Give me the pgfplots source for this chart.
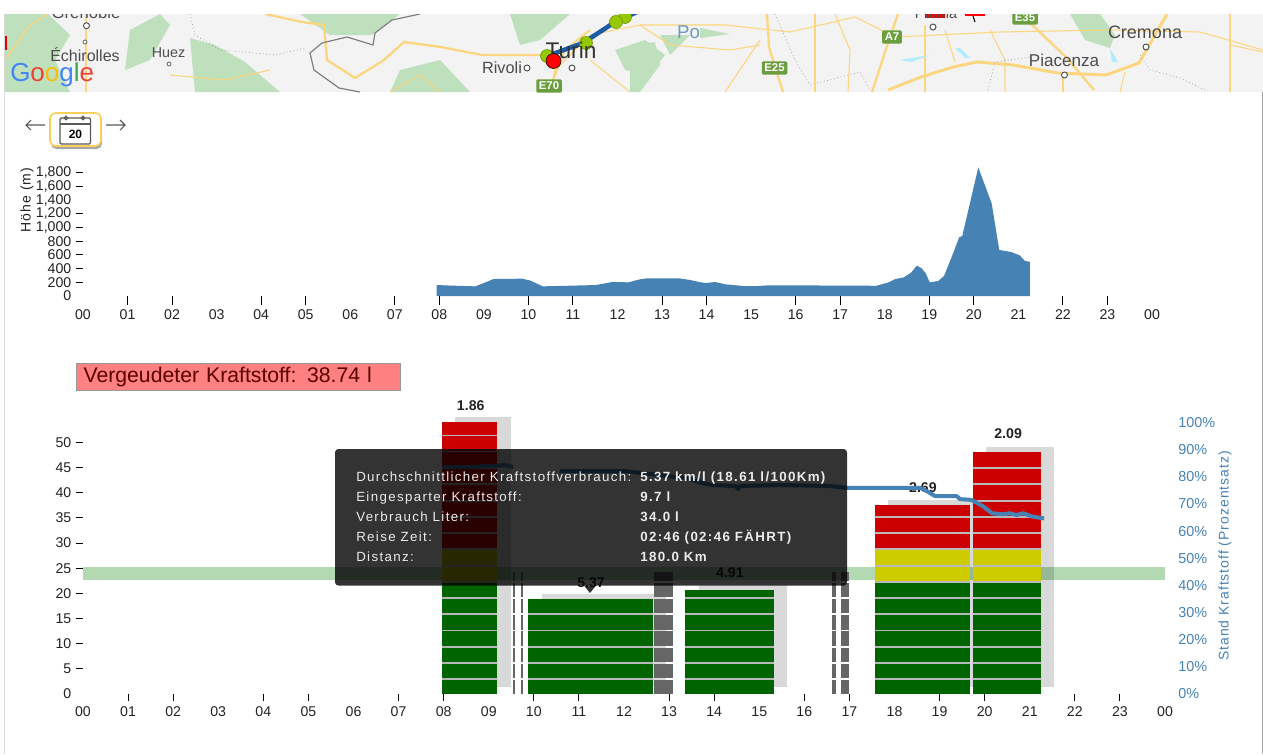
\documentclass[border=0pt]{standalone}
\usepackage{pgfplots}
\pgfplotsset{compat=1.18}
\usepackage{fontspec}
\setmainfont{Liberation Sans}
\newfontfamily\spaced[LetterSpace=7]{Liberation Sans}
\newfontfamily\tipfont[LetterSpace=10]{Liberation Sans}
\definecolor{steel}{HTML}{4682B4}
\definecolor{gbar}{HTML}{006400}
\definecolor{ybar}{HTML}{CCCC00}
\definecolor{rbar}{HTML}{CC0000}
\definecolor{dbar}{HTML}{666666}
\definecolor{sepbar}{HTML}{B8B8B8}
\definecolor{road}{HTML}{FBD67E}
\definecolor{mapgreen}{HTML}{BFE0BC}
\definecolor{mapbg}{HTML}{F3F3F3}
\definecolor{badge}{HTML}{6A9E3F}
\definecolor{ticktext}{HTML}{222222}
\definecolor{marker}{HTML}{96C800}
% one rectangle of a bar: x0, x1, y0, y1, colour
\newcommand\seg[5]{\addplot[fill=#5,draw=none,forget plot] coordinates {(#1,#3)(#2,#3)(#2,#4)(#1,#4)} -- cycle;}
% one grey backing bar: x0, x1, top
\newcommand\back[3]{\addplot[fill=black,fill opacity=0.15,draw=none,forget plot] coordinates {(#1,1.4)(#2,1.4)(#2,#3)(#1,#3)} -- cycle;}
% the five lowest stripes of a bar
\newcommand\low[3]{\seg{#1}{#2}{0}{2.82}{#3}\seg{#1}{#2}{3.14}{6.0}{#3}\seg{#1}{#2}{6.32}{9.24}{#3}\seg{#1}{#2}{9.56}{12.5}{#3}\seg{#1}{#2}{12.82}{15.74}{#3}}
\newcommand\dark[2]{\low{#1}{#2}{dbar}\seg{#1}{#2}{16.06}{18.94}{dbar}\seg{#1}{#2}{19.26}{22.14}{dbar}\seg{#1}{#2}{22.46}{24.25}{dbar}}
\newcommand\full[2]{\low{#1}{#2}{gbar}\seg{#1}{#2}{16.06}{18.94}{gbar}\seg{#1}{#2}{19.26}{22.14}{gbar}\seg{#1}{#2}{22.46}{25.34}{ybar}\seg{#1}{#2}{25.66}{28.64}{ybar}\seg{#1}{#2}{28.96}{31.84}{rbar}\seg{#1}{#2}{32.16}{35.04}{rbar}}
\pgfplotsset{hours/.style={
  scale only axis, clip=false, xmin=0, xmax=24,
  axis line style={draw=none},
  tick align=outside, xtick pos=bottom, ytick pos=left,
  major tick length=5.25pt,
  major tick style={draw=none},
  xtick={0,...,24},
  xticklabels={00,01,02,03,04,05,06,07,08,09,10,11,12,13,14,15,16,17,18,19,20,21,22,23,00},
  ticklabel style={font=\fontsize{10.6}{11}\selectfont,text=ticktext},
  extra x ticks={1,2,4,5,7,8,10,11,13,14,16,17,19,20,22,23},
  extra x tick labels={},
  extra x tick style={major tick style={draw=black,line width=0.8pt}},
  extra y tick labels={},
  extra y tick style={major tick style={draw=black,line width=0.8pt}},
}}
\begin{document}
\begin{tikzpicture}[x=0.75pt,y=-0.75pt]
\path[use as bounding box] (0,0) rectangle (1263,754);
% --- map strip
\begin{scope}
\clip (5,14) rectangle (1263,92);
\fill[mapbg] (5,14) rectangle (1263,92);
\fill[mapgreen] (5,14) -- (48,14) -- (70,35) -- (55,60) -- (70,92) -- (5,92) -- cycle;
\fill[mapgreen] (130,30) -- (160,14) -- (170,25) -- (150,60) -- (125,70) -- cycle;
\fill[mapgreen] (190,38) -- (215,45) -- (245,62) -- (280,92) -- (195,92) -- cycle;
\fill[mapgreen] (300,14) -- (400,14) -- (372,35) -- (330,35) -- cycle;
\fill[mapgreen] (400,70) -- (440,60) -- (470,92) -- (390,92) -- cycle;
\fill[mapgreen] (510,14) -- (570,14) -- (540,40) -- (520,45) -- cycle;
\fill[mapgreen] (615,50) -- (645,40) -- (665,55) -- (650,75) -- (625,70) -- cycle;
\fill[mapgreen] (660,35) -- (690,35) -- (670,55) -- cycle;
\fill[mapgreen] (630,45) -- (655,42) -- (660,65) -- (640,92) -- (630,92) -- cycle;
\fill[mapgreen] (700,28) -- (730,34) -- (700,38) -- cycle;
\fill[mapgreen] (1070,14) -- (1100,14) -- (1115,35) -- (1110,48) -- (1085,40) -- cycle;
\draw[road,line width=1pt] (5,60) -- (30,25) -- (48,14);
\draw[road,line width=1pt] (86,14) -- (86,92);
\draw[road,line width=1.7pt] (265,14) -- (302,22) -- (324,25) -- (327,60) -- (355,78) -- (384,60) -- (404,42) -- (441,47) -- (482,55) -- (543,55);
\draw[road,line width=0.8pt] (170,75) -- (225,80) -- (270,70);
\draw[road,line width=0.8pt] (390,92) -- (420,75) -- (440,92);
\draw[road,line width=0.8pt] (550,92) -- (555,70) -- (590,35) -- (640,25) -- (725,25) -- (790,32) -- (855,17) -- (895,37) -- (1000,32) -- (1110,30) -- (1200,32) -- (1263,50);
\draw[road,line width=0.8pt] (640,25) -- (670,45) -- (730,50) -- (760,45);
\draw[road,line width=0.8pt] (590,60) -- (630,92);
\draw[road,line width=0.8pt] (725,92) -- (760,40);
\draw[road,line width=0.8pt] (815,14) -- (815,92);
\draw[road,line width=0.8pt] (835,14) -- (850,50) -- (848,92);
\draw[road,line width=0.8pt] (925,25) -- (925,92);
\draw[road,line width=0.8pt] (945,30) -- (955,62);
\draw[road,line width=0.8pt] (990,30) -- (1005,60) -- (1005,92);
\draw[road,line width=0.8pt] (1120,92) -- (1125,72);
\draw[road,line width=0.8pt] (1230,14) -- (1230,92);
\draw[road,line width=0.8pt] (1230,45) -- (1263,52);
\draw[road,line width=2.2pt] (888,90) -- (921,77) -- (953,67) -- (977,62) -- (1013,65) -- (1058,73) -- (1106,75) -- (1139,63) -- (1167,14);
\draw[road,line width=1.7pt] (872,92) -- (888,43) -- (898,14);
\draw[road,line width=1.7pt] (783,92) -- (769,47) -- (767,14);
\draw[road,line width=1.7pt] (1030,23) -- (1066,57) -- (1094,90);
\draw[road,line width=1.5pt] (548,92) -- (555,75) -- (565,50) -- (590,30);
\draw[road,line width=1.2pt] (1063,75) -- (1063,92);
\draw[gray,line width=0.9pt] (420,14) -- (392,20) -- (375,33) -- (373,45) -- (347,37) -- (322,43) -- (310,53) -- (314,70) -- (339,88) -- (360,92);
\draw[gray!70,line width=0.6pt,dotted] (190,14) -- (195,35) -- (220,50) -- (245,52) -- (275,55) -- (305,48);
\draw[gray!70,line width=0.6pt,dotted] (775,14) -- (795,60) -- (810,85) -- (860,72) -- (870,90);
\draw[gray!70,line width=0.6pt,dotted] (988,90) -- (995,62) -- (1030,57);
\draw[gray!70,line width=0.6pt,dotted] (1140,55) -- (1150,70) -- (1180,78) -- (1205,90);
\fill[blue!25!cyan!30] (960,48) -- (970,58) -- (965,58) -- (955,48) -- cycle;
\fill[blue!25!cyan!30] (900,60) -- (930,55) -- (912,62) -- cycle;
\fill[blue!25!cyan!30] (1110,48) -- (1118,62) -- (1112,62) -- cycle;
\fill[red!90!black] (5,36) rectangle (6.5,50);
\fill[red] (925,14) rectangle (945,18);
\fill[red] (965,14) rectangle (985,16);
\draw[line width=0.8pt] (973,16) -- (975,22);
\draw[line width=3.4pt,color={rgb,255:red,29;green,92;blue,165}] (550,55) -- (583,43) -- (615,22) -- (637,12);
\foreach \c in {(547,56),(586,43),(625,17),(616,22)} {\fill[marker,draw=marker!70!black,line width=0.4pt] \c circle (6.5);}
\foreach \c in {(86.5,25.7),(527,68),(572,68),(933,27),(1064.5,75),(1146,47)} {\draw[gray!60!black,line width=0.7pt,fill=white] \c circle (3);}
\foreach \c in {(85,42),(169,64)} {\draw[gray!60!black,line width=0.5pt,fill=white] \c circle (2);}
\node[text=gray!60!black,font=\fontsize{12.5}{13}\selectfont] at (86,13) {Grenoble};
\node[text=gray!60!black,font=\fontsize{12}{13}\selectfont] at (85,55) {Échirolles};
\node[text=gray!60!black,font=\fontsize{10.7}{12}\selectfont] at (168.5,53) {Huez};
\node[text=gray!60!black,font=\fontsize{12.2}{13}\selectfont] at (502,68) {Rivoli};
\node[text=gray!40!black,font=\fontsize{17}{18}\selectfont] at (571,50) {Turin};
\node[text=gray!60!black,font=\fontsize{10.8}{12}\selectfont] at (936,14) {Parma};
\node[text=gray!60!black,font=\fontsize{12.8}{13}\selectfont] at (1064,60) {Piacenza};
\node[text=gray!60!black,font=\fontsize{13.5}{14}\selectfont] at (1145,32) {Cremona};
\node[text=steel!80,font=\fontsize{14}{15}\selectfont] at (688.5,32) {Po};
\fill[red,draw=black,line width=0.4pt] (553.5,61) circle (7.5);
\foreach \p/\t in {{(549,86)}/E70,{(774.5,68)}/E25,{(1025,18)}/E35,{(892,37)}/A7}
  {\node[fill=badge,text=white,rounded corners=1pt,inner sep=2pt,font=\bfseries\fontsize{8.5}{9}\selectfont] at \p {\t};}
\node[font=\fontsize{19.5}{20}\selectfont,inner sep=0pt,anchor=west] at (10,74.5) {\textcolor[HTML]{4285F4}{G}\textcolor[HTML]{EA4335}{o}\textcolor[HTML]{FBBC05}{o}\textcolor[HTML]{4285F4}{g}\textcolor[HTML]{34A853}{l}\textcolor[HTML]{EA4335}{e}};
\end{scope}
% --- page edges
\draw[gray!30,line width=0.5pt] (4.5,14) -- (4.5,754);
\draw[gray!70,line width=0.6pt] (1262.3,92) -- (1262.3,754);
% --- calendar button
\fill[black!35,rounded corners=4pt] (51,115) rectangle (102,149);
\draw[draw={rgb,255:red,248;green,208;blue,90},fill=white,line width=1.3pt,rounded corners=4.5pt] (50,113) rectangle (101,146);
\draw[gray!70!black,line width=0.9pt,rounded corners=1pt] (60,118) rectangle (90.5,144);
\draw[gray!70!black,line width=0.9pt] (60,124) -- (90.5,124);
\foreach \c in {66,83} {\draw[gray!70!black,line width=1pt,fill=white] (\c,118) circle (1.6);}
\node[font=\bfseries\fontsize{9}{10}\selectfont] at (75.5,134) {20};
\draw[gray!70!black,line width=0.8pt] (31,120) -- (26,125) -- (31,130) (26,125) -- (45,125);
\draw[gray!70!black,line width=0.8pt] (120,120) -- (125,125) -- (120,130) (125,125) -- (106,125);
% --- elevation
\begin{axis}[hours, at={(62.25pt,-222pt)}, anchor=south west,
  width=801.75pt, height=97.6pt, ymin=0, ymax=1900,
  xticklabel style={yshift=-1.5pt},
  extra x tick style={major tick length=6.75pt},
  ytick={0,200,400,600,800,1000,1200,1400,1600,1800},
  yticklabels={0,200,400,600,800,{1,000},{1,200},{1,400},{1,600},{1,800}},
  extra y ticks={200,400,600,800,1000,1200,1600,1800}]
\addplot[fill=steel,draw=none] coordinates {
(7.94,0)(7.94,160)(8.31,151)(8.81,141)(9.22,248)(9.86,253)(10.05,224)(10.32,141)(10.96,151)(11.51,160)(11.88,204)(12.25,200)(12.5,243)
(12.66,258)(13.38,258)(13.63,234)(13.87,200)(13.98,190)(14.19,204)(14.43,170)(14.83,146)(15.15,146)(15.39,156)(17.63,151)(17.79,146)
(18.07,195)(18.24,248)(18.43,272)(18.59,341)(18.72,443)(18.83,404)(18.92,331)(19.01,200)(19.2,219)(19.33,292)(19.52,599)(19.67,856)
(19.74,876)(20.10,1878)(20.40,1353)(20.57,672)(20.84,642)(21.03,594)(21.14,516)(21.26,496)(21.26,0)} -- cycle;
\end{axis}
\node[rotate=90,font=\spaced\fontsize{10.5}{11}\selectfont,text=ticktext] at (27,200) {Höhe (m)};
% --- wasted fuel box
\node[draw=gray!80,fill={rgb,255:red,255;green,128;blue,128},anchor=west,minimum width=243pt,minimum height=20.5pt,inner sep=0pt,text width=243pt,align=left,font=\fontsize{15.9}{17}\selectfont,text={rgb,255:red,90;green,0;blue,0}] at (76,377) {\hspace{5.5pt}Vergeudeter Kraftstoff: 38.74 l};
% --- bars
\begin{axis}[hours, at={(62.25pt,-520.5pt)}, anchor=south west,
  width=811.5pt, height=211.26pt, ymin=0, ymax=56,
  xticklabel style={yshift=-0.75pt},
  ytick={0,5,...,50},
  yticklabels={0,5,10,15,20,25,30,35,40,45,50},
  extra y ticks={5,10,...,50}]
\addplot[fill=green!50!black,fill opacity=0.3,draw=none,forget plot] coordinates {(0,22.7)(24,22.7)(24,25.3)(0,25.3)} -- cycle;
\back{8.25}{9.49}{55.1}\back{10.19}{12.93}{19.9}\back{13.67}{15.62}{21.6}\back{17.86}{19.98}{38.5}\back{20.03}{21.54}{49.2}
% bar 1
\seg{7.956}{9.19}{0}{54.0}{sepbar}
\full{7.956}{9.19}
\seg{7.956}{9.19}{35.36}{38.24}{rbar}\seg{7.956}{9.19}{38.56}{41.54}{rbar}\seg{7.956}{9.19}{41.86}{44.74}{rbar}\seg{7.956}{9.19}{45.06}{48.04}{rbar}\seg{7.956}{9.19}{48.36}{51.24}{rbar}\seg{7.956}{9.19}{51.56}{54.0}{rbar}
% bar 2
\seg{9.88}{12.64}{0}{18.9}{sepbar}
\low{9.88}{12.64}{gbar}\seg{9.88}{12.64}{16.06}{18.9}{gbar}
% bar 3
\seg{13.36}{15.33}{0}{20.7}{sepbar}
\low{13.36}{15.33}{gbar}\seg{13.36}{15.33}{16.06}{18.94}{gbar}\seg{13.36}{15.33}{19.26}{20.7}{gbar}
% bar 4
\seg{17.56}{19.68}{0}{37.5}{sepbar}
\full{17.56}{19.68}\seg{17.56}{19.68}{35.36}{37.5}{rbar}
% bar 5
\seg{19.73}{21.24}{0}{48.05}{sepbar}
\full{19.73}{21.24}
\seg{19.73}{21.24}{35.36}{38.24}{rbar}\seg{19.73}{21.24}{38.56}{41.54}{rbar}\seg{19.73}{21.24}{41.86}{44.74}{rbar}\seg{19.73}{21.24}{45.06}{48.05}{rbar}
% dark stops
\dark{9.53}{9.58}\dark{9.71}{9.75}\dark{12.67}{13.08}\dark{16.62}{16.70}\dark{16.81}{17.0}
\node[font=\bfseries\fontsize{10.6}{11}\selectfont,text=ticktext] at (axis cs:8.6,57.4) {1.86};
\node[font=\bfseries\fontsize{10.6}{11}\selectfont,text=ticktext] at (axis cs:11.27,22.1) {5.37};
\node[font=\bfseries\fontsize{10.6}{11}\selectfont,text=ticktext] at (axis cs:14.35,24.2) {4.91};
\node[font=\bfseries\fontsize{10.6}{11}\selectfont,text=ticktext] at (axis cs:18.63,41.1) {2.69};
\node[font=\bfseries\fontsize{10.6}{11}\selectfont,text=ticktext] at (axis cs:20.52,51.7) {2.09};
\end{axis}
% --- fuel level
\begin{axis}[scale only axis, clip=false, at={(62.25pt,-520.5pt)}, anchor=south west,
  width=811.5pt, height=203.6pt, xmin=0, xmax=24, ymin=0, ymax=100,
  axis line style={draw=none}, xtick=\empty, ytick pos=right,
  major tick length=0pt,
  ytick={0,10,...,100},
  yticklabels={0\%,10\%,20\%,30\%,40\%,50\%,60\%,70\%,80\%,90\%,100\%},
  yticklabel style={font=\fontsize{10.8}{11}\selectfont,text=steel,anchor=west,xshift=6.5pt},
  unbounded coords=jump]
\addplot[steel,line width=3pt,line join=round] coordinates {
(7.985,83.6)(8.58,83.6)(8.96,84.0)(9.36,84.3)(9.54,83.6)(10,nan)
(10.58,82.1)(12.02,82.1)(12.8,80.7)(13.46,79.2)(13.73,77.7)(13.95,77.0)(14.48,76.6)(14.53,75.5)(14.57,76.6)
(15.46,77.0)(16.57,76.6)(16.97,75.9)(18.57,75.9)(18.68,75.1)(18.9,72.9)(19.38,72.9)(19.45,71.8)(19.71,71.5)
(19.96,69.2)(20.16,66.6)(20.41,66.2)(20.56,66.6)(20.71,65.9)(20.85,66.6)(21.07,65.3)(21.32,64.7)};
\end{axis}
\node[rotate=90,font=\spaced\fontsize{10.5}{11}\selectfont,text=steel] at (1225,556) {Stand Kraftstoff (Prozentsatz)};
% --- tooltip
\fill[black,opacity=0.8,rounded corners=2.5pt] (335,449) rectangle (847,585.5);
\fill[black,opacity=0.8] (584,585.5) -- (596,585.5) -- (590,593) -- cycle;
\begin{scope}[every node/.style={anchor=base west,inner sep=0pt,text=white!92!black,font=\tipfont\fontsize{10}{11}\selectfont}]
\node at (356,481) {Durchschnittlicher Kraftstoffverbrauch:};
\node at (356,501) {Eingesparter Kraftstoff:};
\node at (356,521) {Verbrauch Liter:};
\node at (356,541) {Reise Zeit:};
\node at (356,561) {Distanz:};
\node[font=\tipfont\bfseries\fontsize{10}{11}\selectfont] at (640,481) {5.37 km/l (18.61 l/100Km)};
\node[font=\tipfont\bfseries\fontsize{10}{11}\selectfont] at (640,501) {9.7 l};
\node[font=\tipfont\bfseries\fontsize{10}{11}\selectfont] at (640,521) {34.0 l};
\node[font=\tipfont\bfseries\fontsize{10}{11}\selectfont] at (640,541) {02:46 (02:46 FÄHRT)};
\node[font=\tipfont\bfseries\fontsize{10}{11}\selectfont] at (640,561) {180.0 Km};
\end{scope}
\end{tikzpicture}
\end{document}
